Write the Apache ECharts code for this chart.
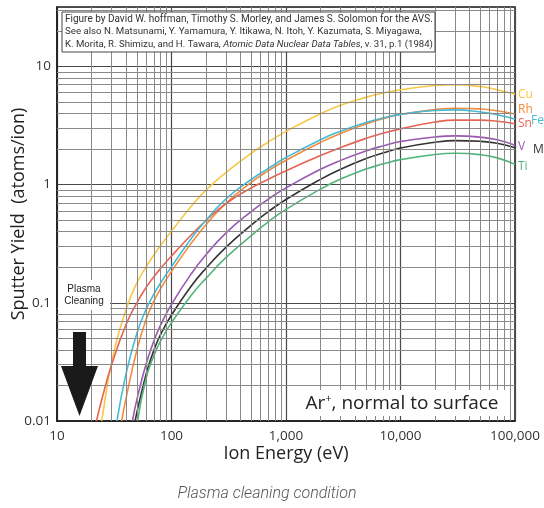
<!DOCTYPE html>
<html><head><meta charset="utf-8">
<script src="https://cdn.jsdelivr.net/npm/echarts@6/dist/echarts.min.js"></script>
<style>html,body{margin:0;padding:0;background:#fff}#c{width:544px;height:508px}</style>
</head><body><div id="c"></div>
<script>
// ---- data ----
const energy = [25,30,40,50,60,70,80,100,150,200,300,500,700,1000,2000,3000,5000,7000,10000,20000,30000,50000,70000,100000];
const seriesNames = ['Cu','Rh','Sn','Fe','V','Mo','Ti'];
// energy (eV) at which each curve leaves the 0.01 floor
const onsetEnergy = [24.5, 36.7, 22.1, 33.4, 45.6, 48.2, 50.5];
const onsetYield = 0.01;
const Cu = [0.0111,0.0313,0.0873,0.148,0.2015,0.253,0.303,0.404,0.661,0.898,1.27,1.85,2.29,2.82,3.98,4.69,5.47,5.93,6.34,6.9,7.0,6.75,6.35,5.8];
const Rh = [null,null,0.0154,0.0403,0.0721,0.1028,0.1306,0.1845,0.323,0.458,0.698,1.05,1.306,1.607,2.275,2.71,3.26,3.61,3.92,4.31,4.43,4.36,4.21,3.96];
const Sn = [0.0161,0.0299,0.0650,0.1005,0.1346,0.1656,0.1945,0.249,0.378,0.497,0.692,0.940,1.11,1.31,1.76,2.06,2.46,2.72,2.96,3.38,3.51,3.51,3.43,3.27];
const Fe = [null,null,0.0249,0.0557,0.0879,0.1178,0.1462,0.2023,0.354,0.500,0.757,1.11,1.368,1.694,2.399,2.831,3.350,3.656,3.926,4.236,4.285,4.111,3.899,3.581];
const V  = [null,null,null,0.0154,0.0303,0.0473,0.0643,0.0970,0.178,0.255,0.391,0.594,0.752,0.938,1.346,1.603,1.928,2.123,2.312,2.529,2.582,2.518,2.393,2.153];
const Mo = [null,null,null,0.01197,0.0249,0.0394,0.0535,0.0789,0.140,0.196,0.296,0.456,0.590,0.748,1.107,1.349,1.660,1.849,2.037,2.280,2.355,2.323,2.234,2.046];
const Ti = [null,null,null,null,0.0230,0.0355,0.0471,0.0679,0.117,0.161,0.242,0.372,0.484,0.617,0.916,1.114,1.355,1.493,1.626,1.799,1.841,1.791,1.683,1.483];
const xTickLabels = ['10','100','1,000','10,000','100,000'];
const yTickLabels = ['0.01','0.1','1','10'];
const yMax = 31.8;

// ---- styling ----
const colors = ['#f8c745','#f58b3d','#eb6352','#45bcd6','#9a58b3','#333333','#4fb67a'];
const labelOffsets = [[0,0],[0,-4],[0,0],[13,1],[0,1],[15,2],[0,2]];
const valuesBySeries = [Cu,Rh,Sn,Fe,V,Mo,Ti];
const FONT = '"Open Sans","Noto Sans",sans-serif';

function isDecade(v){const l=Math.log10(v);return Math.abs(l-Math.round(l))<1e-6;}

const xMinor=[], yMinor=[];
for (let d=10; d<100000; d*=10) for (let k=2;k<10;k++) xMinor.push(d*k);
for (let d=0.01; d<20; d*=10) for (let k=2;k<10;k++) { const v=+(d*k).toPrecision(6); if (v<yMax) yMinor.push(v); }

const lineSeries = seriesNames.map((name,i)=>{
  const vals = valuesBySeries[i];
  const data = [[onsetEnergy[i], onsetYield]];
  energy.forEach((e,j)=>{ if (vals[j]!=null) data.push([e, vals[j]]); });
  return {
    name, type:'line', data, showSymbol:false, smooth:0.5, z:3,
    lineStyle:{color:colors[i], width:1.6},
    itemStyle:{color:colors[i]},
    endLabel:{show:true, formatter:name, color:colors[i], fontSize:12, fontFamily:FONT, distance:3, offset:labelOffsets[i]},
    silent:true
  };
});

const gridSeries = {
  type:'line', data:[], silent:true, z:1,
  markLine:{
    silent:true, symbol:['none','none'], label:{show:false}, animation:false,
    lineStyle:{color:'#8a8a8a', width:1, type:'solid'},
    emphasis:{disabled:true},
    data:[...xMinor.map(v=>({xAxis:v})), ...yMinor.map(v=>({yAxis:v}))]
  }
};

const ROB = 'Roboto,sans-serif';
const chart = echarts.init(document.getElementById('c'));
chart.setOption({
  animation:false,
  backgroundColor:'#fff',
  grid:{left:57,right:29,top:7,bottom:87,show:true,borderColor:'#1a1a1a',borderWidth:1.5,outerBoundsMode:'none',containLabel:false},
  xAxis:{
    type:'log', logBase:10, min:10, max:100000,
    name:'Ion Energy (eV)', nameLocation:'middle', nameGap:24, nameMoveOverlap:false,
    nameTextStyle:{fontSize:18,color:'#222',fontFamily:FONT},
    axisLine:{show:true,lineStyle:{color:'#1a1a1a',width:1.5}},
    axisTick:{show:false},
    axisLabel:{margin:8,fontSize:13.5,color:'#333',fontFamily:FONT,
      formatter:v=> isDecade(v) ? xTickLabels[Math.round(Math.log10(v))-1] : ''},
    splitLine:{show:true,lineStyle:{color:'#4a4a4a',width:1.2}}
  },
  yAxis:{
    type:'log', logBase:10, min:0.01, max:yMax,
    name:'Sputter Yield  (atoms/ion)', nameLocation:'middle', nameGap:29, nameMoveOverlap:false,
    nameTextStyle:{fontSize:18,color:'#222',fontFamily:FONT},
    axisLine:{show:true,lineStyle:{color:'#1a1a1a',width:1.5}},
    axisTick:{show:false},
    axisLabel:{margin:6,fontSize:13.5,color:'#333',fontFamily:FONT,showMaxLabel:false,
      formatter:v=> isDecade(v) ? yTickLabels[Math.round(Math.log10(v))+2] : ''},
    splitLine:{show:true,lineStyle:{color:'#4a4a4a',width:1.2}}
  },
  series:[gridSeries, ...lineSeries],
  graphic:[
    {type:'rect', z:10, shape:{x:62,y:12,width:373,height:40}, style:{fill:'#fff',stroke:'#444',lineWidth:1}},
    {type:'text', z:11, x:65, y:19, style:{text:'Figure by David W. hoffman, Timothy S. Morley, and James S. Solomon for the AVS.', fontSize:10.0, fontFamily:ROB, fill:'#333', verticalAlign:'middle'}},
    {type:'text', z:11, x:65, y:32, style:{text:'See also N. Matsunami, Y. Yamamura, Y. Itikawa, N. Itoh, Y. Kazumata, S. Miyagawa,', fontSize:9.7, fontFamily:ROB, fill:'#333', verticalAlign:'middle'}},
    {type:'text', z:11, x:65, y:45, style:{text:'K. Morita, R. Shimizu, and H. Tawara, {i|Atomic Data Nuclear Data Tables}, v. 31, p.1 (1984)', fontSize:9.65, fontFamily:ROB, fill:'#333', verticalAlign:'middle', rich:{i:{fontStyle:'italic',fontSize:9.65,fontFamily:ROB,fill:'#333'}}}},
    {type:'rect', z:10, shape:{x:300,y:390,width:205,height:26}, style:{fill:'#fff'}},
    {type:'text', z:11, x:402, y:404, style:{text:'Ar{s|+}, normal to surface', fontSize:19, fontFamily:FONT, fill:'#222', align:'center', verticalAlign:'middle', rich:{s:{fontSize:11,fontFamily:FONT,fill:'#222',verticalAlign:'top',padding:[0,0,11,0]}}}},
    {type:'rect', z:10, shape:{x:58,y:280,width:52,height:30}, style:{fill:'#fff'}},
    {type:'text', z:11, x:84, y:289, style:{text:'Plasma', fontSize:10, fontFamily:'"Liberation Sans",Arial,sans-serif', fill:'#222', align:'center', verticalAlign:'middle'}},
    {type:'text', z:11, x:84, y:301, style:{text:'Cleaning', fontSize:10, fontFamily:'"Liberation Sans",Arial,sans-serif', fill:'#222', align:'center', verticalAlign:'middle'}},
    {type:'polygon', z:11, shape:{points:[[73,332],[86,332],[86,366],[98,366],[79.5,416],[61,366],[73,366]]}, style:{fill:'#1a1a1a'}},
    {type:'text', z:11, x:267, y:494, style:{text:'Plasma cleaning condition', fontSize:16, fontStyle:'italic', fontWeight:300, fontFamily:ROB, fill:'#555', align:'center', verticalAlign:'middle'}}
  ]
});
</script></body></html>
